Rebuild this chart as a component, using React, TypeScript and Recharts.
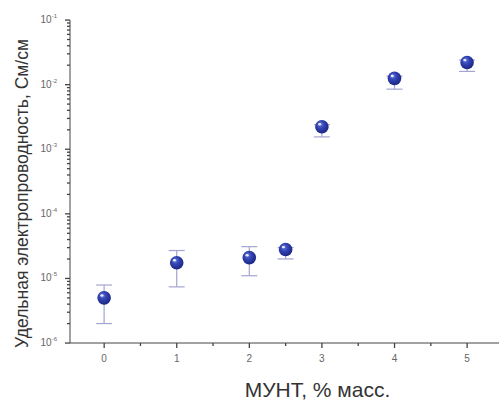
import React from "react";
import { ScatterChart, Scatter, XAxis, YAxis, ErrorBar } from "recharts";

const xValues = [0, 1, 2, 2.5, 3, 4, 5];
const conductivity = [5.0e-6, 1.75e-5, 2.1e-5, 2.8e-5, 2.23e-3, 1.25e-2, 2.2e-2];
const errLow = [2.0e-6, 7.4e-6, 1.1e-5, 2.0e-5, 1.55e-3, 8.5e-3, 1.6e-2];
const errHigh = [7.9e-6, 2.7e-5, 3.1e-5, 3.0e-5, 2.4e-3, 1.35e-2, 2.4e-2];

const xTicks = [0, 0.5, 1, 1.5, 2, 2.5, 3, 3.5, 4, 4.5, 5];
const decadeExps = [-6, -5, -4, -3, -2];
const yTicks: number[] = [];
decadeExps.forEach((e) => {
  for (let k = 1; k <= 9; k++) yTicks.push(k * Math.pow(10, e));
});
yTicks.push(1e-1);

const data = xValues.map((x, i) => ({
  x,
  y: conductivity[i],
  err: [conductivity[i] - errLow[i], errHigh[i] - conductivity[i]],
}));

const AXIS = "#444";
const TICKTXT = "#666";

function XTick(props: any) {
  const { x, y, payload } = props;
  const v = payload.value;
  const major = Math.abs(v - Math.round(v)) < 1e-9;
  return (
    <g>
      <rect x={x - 0.6} y={y} width={1.3} height={major ? 5 : 3} fill={AXIS} />
      {major && (
        <text x={x} y={y + 19} textAnchor="middle" fontSize={10} fill={TICKTXT} fontFamily="Liberation Sans, Arial, sans-serif">
          {String(v)}
        </text>
      )}
    </g>
  );
}

function YTick(props: any) {
  const { x, y, payload } = props;
  const v = payload.value;
  const exp = Math.round(Math.log10(v));
  const major = Math.abs(v - Math.pow(10, exp)) / v < 1e-6;
  const len = major ? 5 : 3;
  return (
    <g>
      <rect x={x - len} y={y - 0.6} width={len} height={1.3} fill={AXIS} />
      {major && (
        <text x={x - 13} y={y + 3} textAnchor="end" fontSize={10} fill={TICKTXT} fontFamily="Liberation Sans, Arial, sans-serif">
          <tspan>10</tspan>
          <tspan dy={-5} fontSize={6}>{String(exp)}</tspan>
        </text>
      )}
    </g>
  );
}

const Sphere = (props: any) => {
  const { cx, cy } = props;
  if (cx == null || cy == null) return null;
  return (
    <g>
      <circle cx={cx} cy={cy} r={6.8} fill="url(#sphereGrad)" />
      <ellipse cx={cx - 2.2} cy={cy - 2.4} rx={1.6} ry={1.2} fill="#ffffff" opacity={0.85} />
    </g>
  );
};

const Empty = () => <g />;

const XLabel = (props: any) => {
  const vb = props.viewBox || {};
  return (
    <text x={vb.x + vb.width / 2 + 33} y={397} textAnchor="middle" fontSize={21} fill="#333" fontFamily="Liberation Sans, Arial, sans-serif">
      МУНТ, % масс.
    </text>
  );
};

const YLabel = (props: any) => {
  const vb = props.viewBox || {};
  const cy = vb.y + vb.height / 2 + 12;
  const cx = 22;
  return (
    <text x={cx} y={cy} transform={`rotate(-90 ${cx} ${cy})`} textAnchor="middle" dominantBaseline="central" fontSize={17.5} fill="#333" fontFamily="Liberation Sans, Arial, sans-serif">
      Удельная электропроводность, См/см
    </text>
  );
};

export default function App() {
  return (
    <div style={{ position: "absolute", left: 0, top: 0, background: "#fff" }}>
      <ScatterChart width={499} height={401} margin={{ top: 20, right: 0, bottom: 0, left: 0 }}>
        <defs>
          <radialGradient id="sphereGrad" cx="45%" cy="42%" r="60%" fx="35%" fy="30%">
            <stop offset="0%" stopColor="#6f80e0" />
            <stop offset="45%" stopColor="#3344b4" />
            <stop offset="100%" stopColor="#1a2480" />
          </radialGradient>
        </defs>
        <XAxis
          type="number"
          dataKey="x"
          domain={[-0.47, 5.44]}
          ticks={xTicks}
          interval={0}
          height={58}
          tickSize={0}
          tickMargin={0}
          tickLine={false}
          tick={XTick}
          stroke={AXIS}
          allowDataOverflow
          label={<XLabel />}
        />
        <YAxis
          type="number"
          dataKey="y"
          scale="log"
          domain={[1e-6, 1e-1]}
          ticks={yTicks}
          interval={0}
          width={70}
          tickSize={0}
          tickMargin={0}
          tickLine={false}
          tick={YTick}
          stroke={AXIS}
          allowDataOverflow
          label={<YLabel />}
        />
        <Scatter data={data} shape={<Empty />} isAnimationActive={false}>
          <ErrorBar dataKey="err" direction="y" width={8} stroke="#a4a4d0" strokeWidth={1.2} />
        </Scatter>
        <Scatter data={data} shape={<Sphere />} isAnimationActive={false} />
      </ScatterChart>
    </div>
  );
}
